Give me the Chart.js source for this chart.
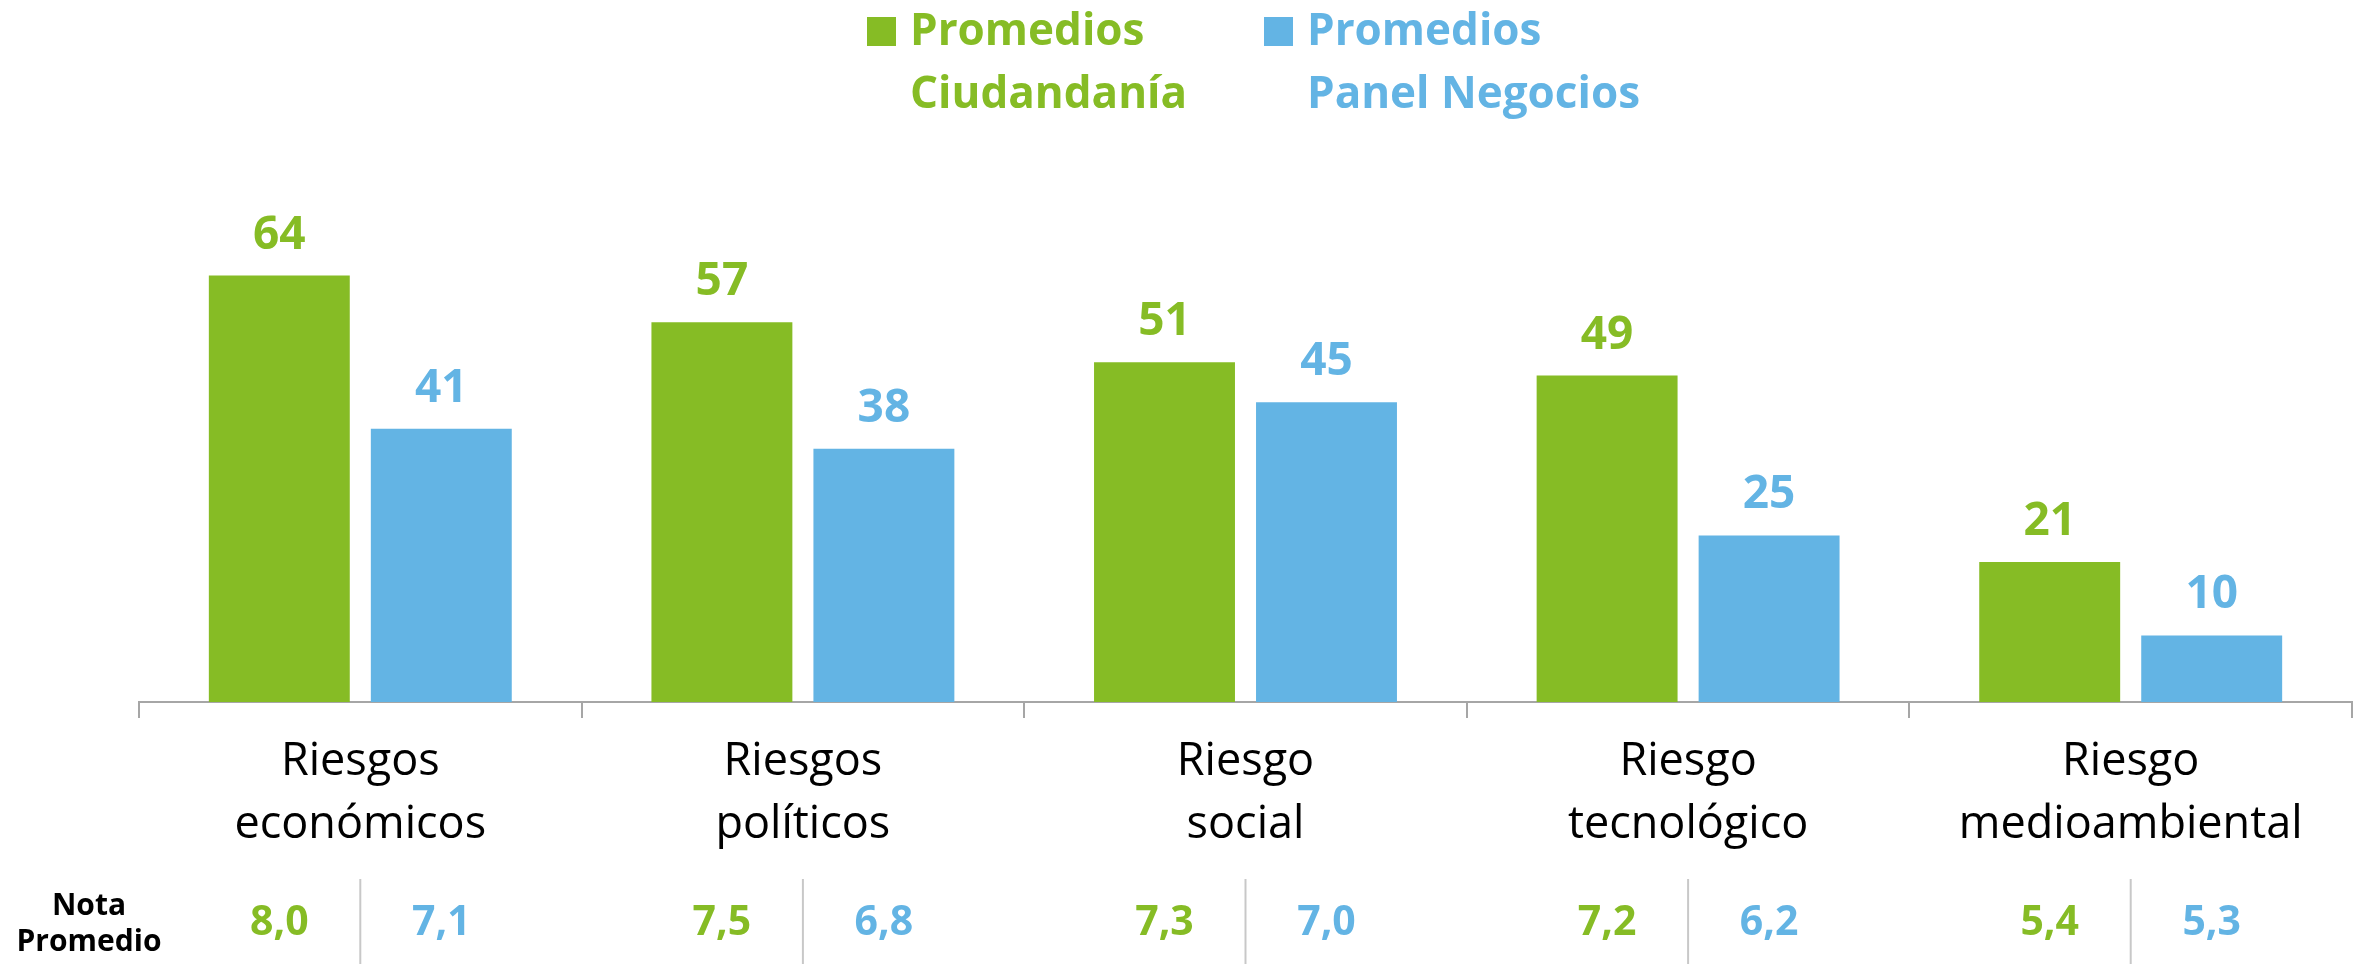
<!DOCTYPE html>
<html>
<head>
<meta charset="utf-8">
<script src="https://cdn.jsdelivr.net/npm/chart.js@4.4.1/dist/chart.umd.min.js"></script>
<style>
  html, body { margin: 0; padding: 0; background: #fff; }
  #wrap { width: 2353px; height: 964px; }
</style>
</head>
<body>
<div id="wrap"><canvas id="riesgosChart" width="2353" height="964"></canvas></div>
<script>
// datos
const categorias = [
  ['Riesgos', 'económicos'],
  ['Riesgos', 'políticos'],
  ['Riesgo', 'social'],
  ['Riesgo', 'tecnológico'],
  ['Riesgo', 'medioambiental']
];
const ciudadania = [64, 57, 51, 49, 21];
const negocios = [41, 38, 45, 25, 10];
const notaCiudadania = [8.0, 7.5, 7.3, 7.2, 5.4];
const notaNegocios = [7.1, 6.8, 7.0, 6.2, 5.3];
const leyendaCiudadania = ['Promedios', 'Ciudandanía'];
const leyendaNegocios = ['Promedios', 'Panel Negocios'];

const verde = '#86BC25';
const azul = '#63B4E4';
const FAMILIA = "'Open Sans', sans-serif";

const fmt = v => v.toFixed(1).replace('.', ',');

// etiquetas sobre las barras
const valoresPlugin = {
  id: 'valores',
  afterDatasetsDraw(chart) {
    const ctx = chart.ctx;
    ctx.save();
    ctx.font = `bold 46px ${FAMILIA}`;
    ctx.textAlign = 'center';
    ctx.textBaseline = 'alphabetic';
    chart.data.datasets.forEach((ds, i) => {
      chart.getDatasetMeta(i).data.forEach((bar, j) => {
        ctx.fillStyle = ds.backgroundColor;
        ctx.fillText(ds.data[j], bar.x, bar.y - 27);
      });
    });
    ctx.restore();
  }
};

// leyenda en dos lineas
const leyendaPlugin = {
  id: 'leyenda',
  afterDraw(chart) {
    const ctx = chart.ctx;
    ctx.save();
    ctx.font = `bold 44px ${FAMILIA}`;
    ctx.textAlign = 'left';
    ctx.textBaseline = 'alphabetic';
    const items = [
      { x: 867, color: verde, text: leyendaCiudadania },
      { x: 1264, color: azul, text: leyendaNegocios }
    ];
    items.forEach(it => {
      ctx.fillStyle = it.color;
      ctx.fillRect(it.x, 17, 29, 29);
      it.text.forEach((t, k) => ctx.fillText(t, it.x + 43, 45 + k * 63));
    });
    ctx.restore();
  }
};

// fila de nota promedio
const notaPlugin = {
  id: 'nota',
  afterDraw(chart) {
    const ctx = chart.ctx;
    const xs = chart.scales.x;
    ctx.save();
    ctx.fillStyle = '#000';
    ctx.font = `bold 30px ${FAMILIA}`;
    ctx.textAlign = 'center';
    ctx.fillText('Nota', 89, 915);
    ctx.fillText('Promedio', 89, 951);

    ctx.strokeStyle = '#C8C8C8';
    ctx.lineWidth = 2;
    categorias.forEach((c, i) => {
      const cx = xs.getPixelForValue(i);
      ctx.beginPath();
      ctx.moveTo(cx, 879);
      ctx.lineTo(cx, 964);
      ctx.stroke();
    });

    ctx.font = `bold 41px ${FAMILIA}`;
    const m0 = chart.getDatasetMeta(0).data;
    const m1 = chart.getDatasetMeta(1).data;
    notaCiudadania.forEach((v, i) => {
      ctx.fillStyle = verde;
      ctx.fillText(fmt(v), m0[i].x, 935);
    });
    notaNegocios.forEach((v, i) => {
      ctx.fillStyle = azul;
      ctx.fillText(fmt(v), m1[i].x, 935);
    });
    ctx.restore();
  }
};

new Chart(document.getElementById('riesgosChart').getContext('2d'), {
  type: 'bar',
  data: {
    labels: categorias,
    datasets: [
      { label: 'Promedios Ciudandanía', data: ciudadania, backgroundColor: verde },
      { label: 'Promedios Panel Negocios', data: negocios, backgroundColor: azul }
    ]
  },
  options: {
    responsive: false,
    animation: false,
    devicePixelRatio: 1,
    categoryPercentage: 0.732,
    barPercentage: 0.87,
    layout: { padding: { left: 139, right: 1, top: 169, bottom: 0 } },
    plugins: {
      legend: { display: false },
      tooltip: { enabled: false }
    },
    scales: {
      y: { display: false, min: 0, max: 80 },
      x: {
        afterFit: s => { s.height = 262; },
        border: { display: true, color: '#A6A6A6', width: 2 },
        grid: { display: true, drawOnChartArea: false, drawTicks: true, tickLength: 16, color: '#A6A6A6', lineWidth: 2 },
        ticks: {
          color: '#000',
          padding: 13,
          font: { family: FAMILIA, size: 45, lineHeight: 1.4 }
        }
      }
    }
  },
  plugins: [valoresPlugin, leyendaPlugin, notaPlugin]
});
</script>
</body>
</html>
